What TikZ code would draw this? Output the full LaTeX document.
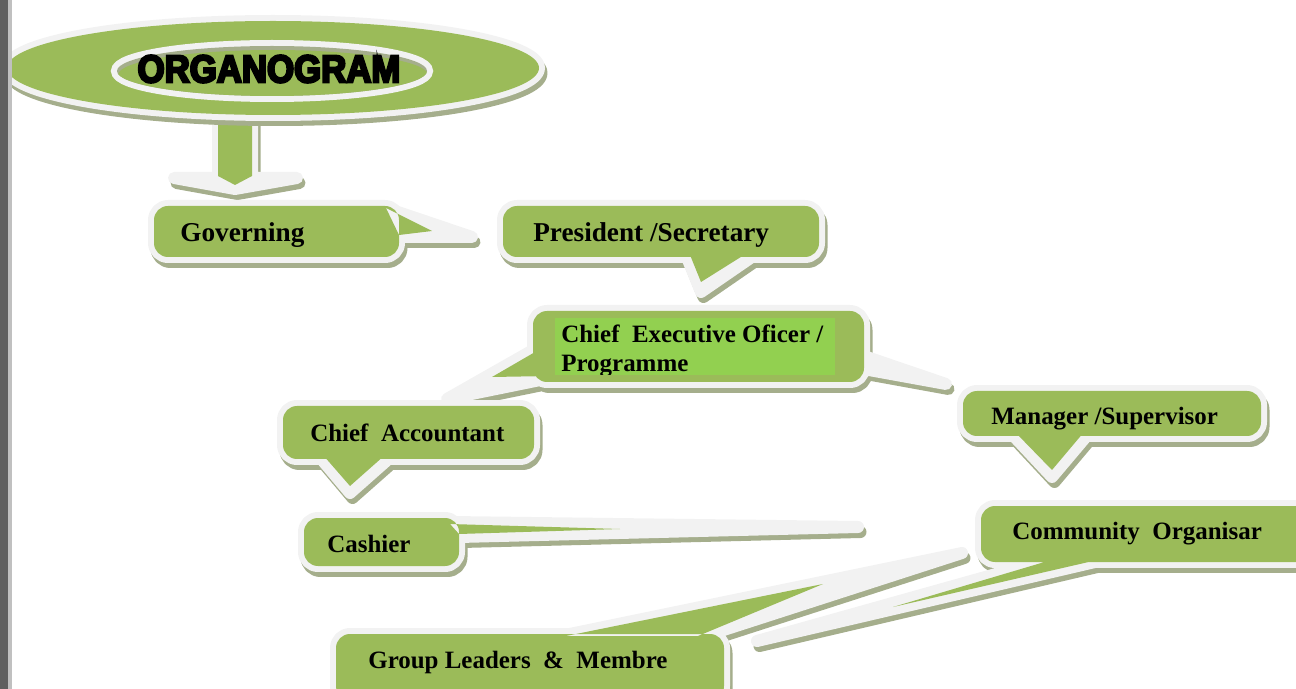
\documentclass[tikz,border=0pt]{standalone}
\usepackage{fontspec}
\setmainfont{Liberation Serif}
\newfontfamily\titlefont[FakeBold=6,FakeStretch=0.9]{Liberation Sans Bold}

\definecolor{boxgreen}{HTML}{9BBB59}
\definecolor{rimwhite}{HTML}{F2F2F2}
\definecolor{shadowgreen}{HTML}{A5AE8C}
\definecolor{ceogreen}{HTML}{92D050}
\definecolor{bardark}{HTML}{5F5F5F}
\definecolor{barlight}{HTML}{C0C0C0}

\tikzset{
	shade part/.style={fill=shadowgreen, draw=shadowgreen, line width=0.24cm,
		line join=round, transform canvas={xshift=0.05cm, yshift=-0.1cm}},
	rim part/.style={fill=rimwhite, draw=rimwhite, line width=0.24cm, line join=round},
	green part/.style={fill=boxgreen},
	boxtext/.style={font=\bfseries\fontsize{14.2}{16.4}\selectfont, inner sep=0pt,
		anchor=base west},
	bigtext/.style={boxtext, font=\bfseries\fontsize{15.5}{18}\selectfont}
}

% #1 box, #2 pointer (rim), #3 pointer (green)
\newcommand{\bubble}[3]{%
	\path[shade part] #2 [rounded corners=0.28cm] #1;
	\path[rim part] #2 [rounded corners=0.28cm] #1;
	\path[green part] #3 [rounded corners=0.28cm] #1;
}

\begin{document}
\begin{tikzpicture}[x=0.02cm, y=-0.02cm]
	\useasboundingbox (0,0) rectangle (1296,689);

	% arrow under the title
	\bubble{}
		{(218,118) -- (252,118) -- (252,178) -- (297,178) -- (235,189)
			-- (174,178) -- (218,178) -- cycle}
		{(218,118) -- (252,118) -- (252,176) -- (235,185) -- (218,176) -- cycle}

	% title
	\bubble{(273,68) ellipse [x radius=266, y radius=47]}{}{}
	\draw[rimwhite, line width=0.24cm] (272,71) ellipse [x radius=155, y radius=25];
	\fill[shadowgreen] (272,71) ellipse [x radius=155, y radius=25];
	\begin{scope}
		\clip (272,71) ellipse [x radius=155, y radius=25];
		\fill[boxgreen] (273,75) ellipse [x radius=155, y radius=25];
	\end{scope}
	\node[font=\titlefont\fontsize{22}{22}\selectfont] (title) at (269,69) {ORGANOGRAM};

	% callouts
	\bubble{(154,206) rectangle (399,257)}
		{(386,208) -- (472,237) -- (399,237) -- cycle}
		{(386,208) -- (432,231) -- (399,235) -- cycle}
	\bubble{(503,206) rectangle (819,257)}
		{(684,250) -- (701,292) -- (762,250) -- cycle}
		{(688,250) -- (701,282) -- (752,250) -- cycle}
	\bubble{(533,311) rectangle (864,382)}
		{(542,345) -- (447,399) -- (550,378) -- cycle
			(858,354) -- (946,384) -- (858,368) -- cycle}
		{(542,348) -- (492,377) -- (550,376) -- cycle}
	\fill[ceogreen] (555,318) rectangle (835,375);
	\bubble{(283,406) rectangle (534,459)}
		{(318,455) -- (350,493) -- (393,455) -- cycle}
		{(323,455) -- (350,486) -- (385,455) -- cycle}
	\bubble{(963,391) rectangle (1261,436)}
		{(1010,432) -- (1052,477) -- (1090,432) -- cycle}
		{(1015,432) -- (1052,470) -- (1084,432) -- cycle}
	\bubble{(304,518) rectangle (459,566)}
		{(450,522) -- (858,527) -- (459,537) -- cycle}
		{(450,524) -- (620,529) -- (459,534) -- cycle}
	\bubble{(336,634) rectangle (724,700)}
		{(560,636) -- (962,553) -- (705,636) -- cycle}
		{(566,636) -- (823,584) -- (698,636) -- cycle}
	\bubble{(981,506) rectangle (1320,562)}
		{(1053,558) -- (757,641) -- (1112,558) -- cycle}
		{(1058,558) -- (893,607) -- (1106,558) -- cycle}

	% page edge
	\fill[bardark] (0,0) rectangle (8,689);
	\fill[barlight] (8,0) rectangle (12,689);

	% texts
	\node[bigtext] (governing) at (180,242) {Governing};
	\node[bigtext] (president) at (533,242) {President /Secretary};
	\begin{scope}
		\clip (555,318) rectangle (835,375);
		\node[boxtext, anchor=north west, align=left] (ceo) at (561,325)
			{Chief\ \ Executive Oficer /\\Programme};
	\end{scope}
	\node[boxtext] (accountant) at (310,441) {Chief\ \ Accountant};
	\node[boxtext] (manager) at (991,425) {Manager /Supervisor};
	\node[boxtext] (cashier) at (327,552) {Cashier};
	\node[boxtext] (community) at (1012,540) {Community\ \ Organisar};
	\node[boxtext] (members) at (368,668) {Group Leaders\ \ \&\ \ Membre};
\end{tikzpicture}
\end{document}
